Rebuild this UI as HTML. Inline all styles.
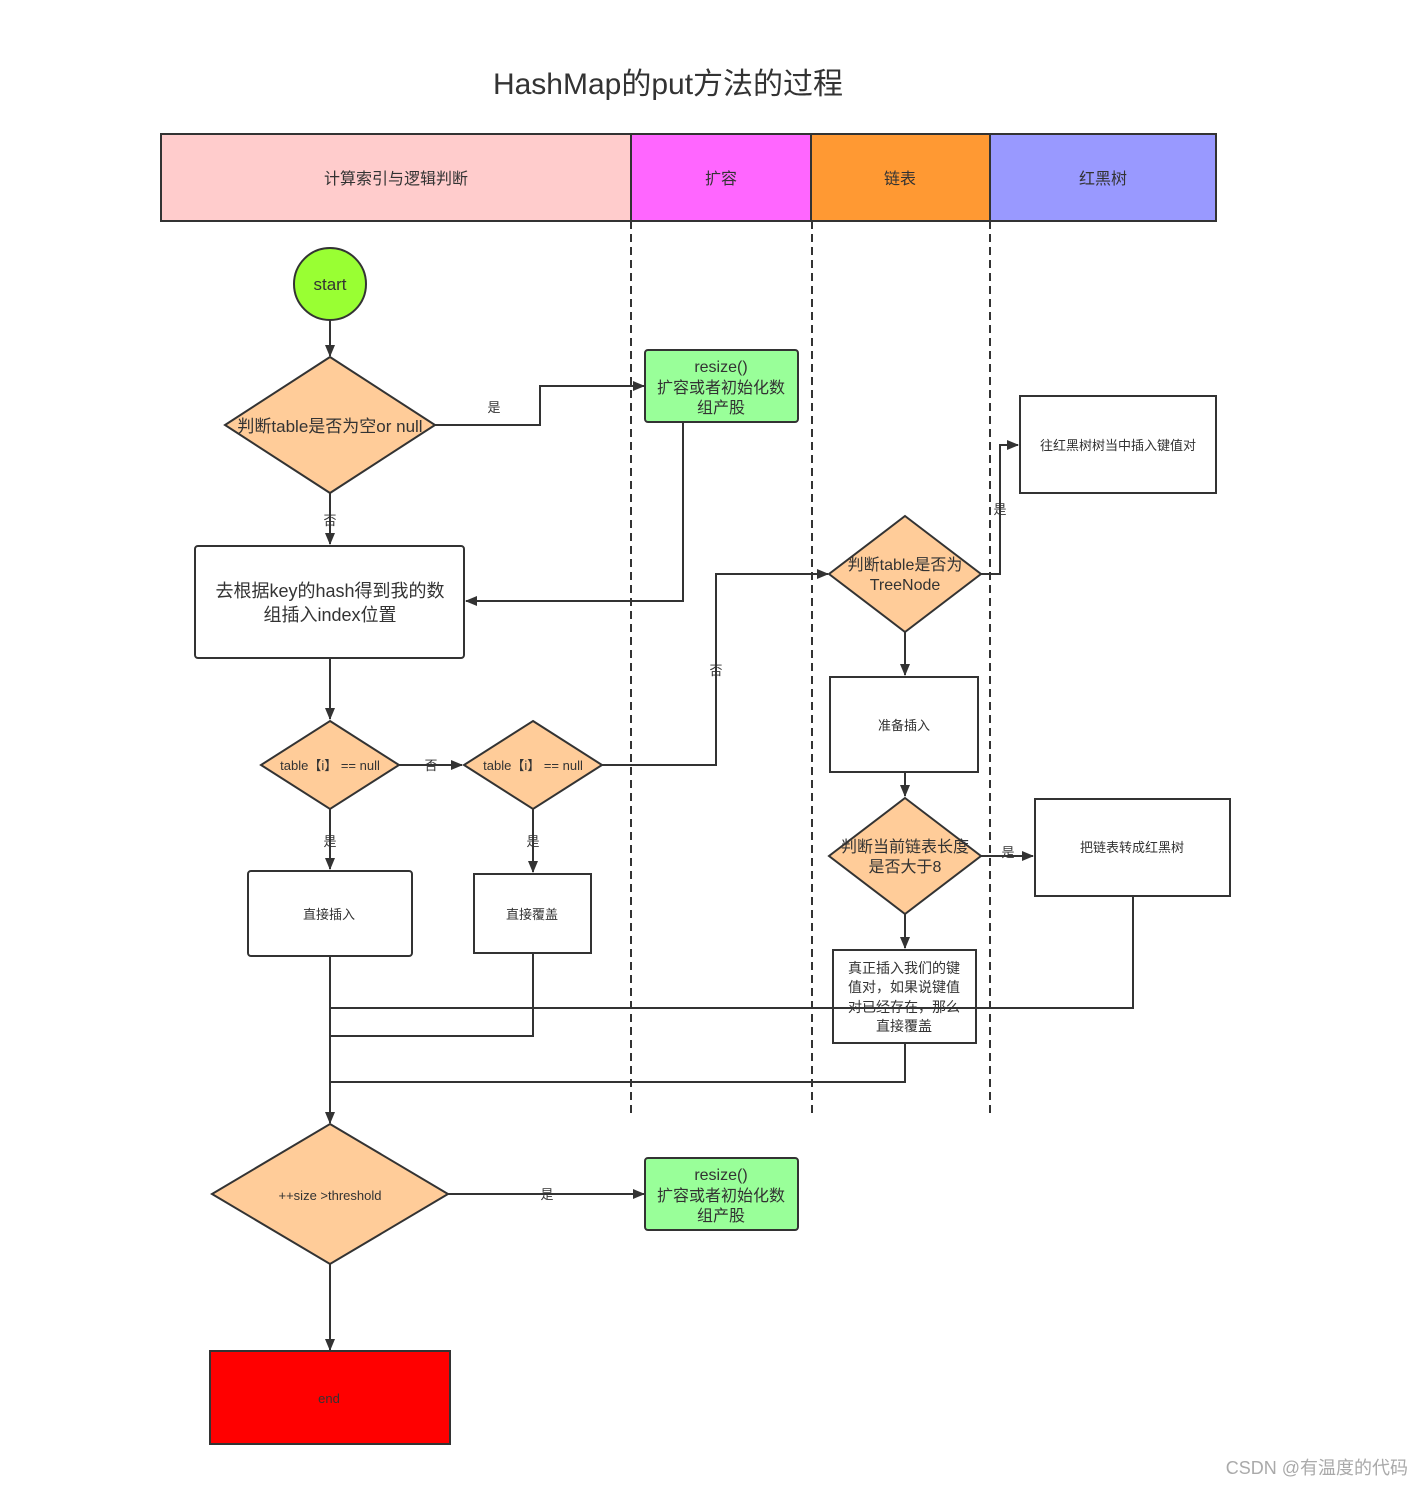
<!DOCTYPE html>
<html><head><meta charset="utf-8"><style>
html,body{margin:0;padding:0;background:#fff;}
svg{display:block;}
text{font-family:"Liberation Sans","Noto Sans CJK SC",sans-serif;fill:#333;}
</style></head><body>
<svg width="1422" height="1486" viewBox="0 0 1422 1486" xmlns="http://www.w3.org/2000/svg">
<defs><marker id="a" markerWidth="12" markerHeight="10" refX="11" refY="5" orient="auto" markerUnits="userSpaceOnUse"><path d="M0,0 L12,5 L0,10 Z" fill="#333"/></marker></defs>
<text x="668" y="94" font-size="30" text-anchor="middle">HashMap的put方法的过程</text>
<g stroke="#333" stroke-width="2">
<rect x="161" y="134" width="470" height="87" fill="#ffcccc"/>
<rect x="631" y="134" width="180" height="87" fill="#ff66ff"/>
<rect x="811" y="134" width="179" height="87" fill="#ff9933"/>
<rect x="990" y="134" width="226" height="87" fill="#9999ff"/>
</g>
<g font-size="16" text-anchor="middle">
<text x="396" y="184">计算索引与逻辑判断</text><text x="721" y="184">扩容</text><text x="900" y="184">链表</text><text x="1103" y="184">红黑树</text>
</g>
<g stroke="#333" stroke-width="2" stroke-dasharray="8,5"><line x1="631" y1="221" x2="631" y2="1118"/><line x1="812" y1="221" x2="812" y2="1118"/><line x1="990" y1="221" x2="990" y2="1118"/></g>
<g stroke="#333" stroke-width="2" fill="none">
<path d="M330,320V356" marker-end="url(#a)"/>
<path d="M435,425H540V386H644" marker-end="url(#a)"/>
<path d="M683,422V601H466" marker-end="url(#a)"/>
<path d="M330,493V544" marker-end="url(#a)"/>
<path d="M330,658V719" marker-end="url(#a)"/>
<path d="M399,765H462" marker-end="url(#a)"/>
<path d="M602,765H716V574H828" marker-end="url(#a)"/>
<path d="M981,574H1000V445H1018" marker-end="url(#a)"/>
<path d="M905,632V675" marker-end="url(#a)"/>
<path d="M905,772V796" marker-end="url(#a)"/>
<path d="M981,856H1033" marker-end="url(#a)"/>
<path d="M1133,896V1008H330"/>
<path d="M905,914V948" marker-end="url(#a)"/>
<path d="M905,1043V1082H330"/>
<path d="M330,809V869" marker-end="url(#a)"/>
<path d="M533,809V872" marker-end="url(#a)"/>
<path d="M533,953V1036H330"/>
<path d="M330,956V1123" marker-end="url(#a)"/>
<path d="M448,1194H644" marker-end="url(#a)"/>
<path d="M330,1264V1350" marker-end="url(#a)"/>
</g>
<g stroke="#333" stroke-width="2">
<circle cx="330" cy="284" r="36" fill="#99ff33"/>
<polygon points="330,357 435,425 330,493 225,425" fill="#ffcc99"/>
<rect x="645" y="350" width="153" height="72" rx="3" fill="#99ff99"/>
<rect x="195" y="546" width="269" height="112" rx="3" fill="#fff"/>
<polygon points="330,721 399,765 330,809 261,765" fill="#ffcc99"/>
<polygon points="533,721 602,765 533,809 464,765" fill="#ffcc99"/>
<polygon points="905,516 981,574 905,632 829,574" fill="#ffcc99"/>
<rect x="1020" y="396" width="196" height="97" fill="#fff"/>
<rect x="830" y="677" width="148" height="95" fill="#fff"/>
<polygon points="905,798 981,856 905,914 829,856" fill="#ffcc99"/>
<rect x="1035" y="799" width="195" height="97" fill="#fff"/>
<rect x="833" y="950" width="143" height="93" fill="#fff"/>
<rect x="248" y="871" width="164" height="85" rx="3" fill="#fff"/>
<rect x="474" y="874" width="117" height="79" fill="#fff"/>
<polygon points="330,1124 448,1194 330,1264 212,1194" fill="#ffcc99"/>
<rect x="645" y="1158" width="153" height="72" rx="3" fill="#99ff99"/>
<rect x="210" y="1351" width="240" height="93" fill="#ff0000"/>
</g>
<path d="M833,1008H976" stroke="#333" stroke-width="2"/>
<g text-anchor="middle">
<text x="330" y="290" font-size="17">start</text>
<text x="330" y="432" font-size="17">判断table是否为空or null</text>
<g font-size="16"><text x="721" y="372">resize()</text><text x="721" y="393">扩容或者初始化数</text><text x="721" y="413">组产股</text>
<text x="721" y="1180">resize()</text><text x="721" y="1201">扩容或者初始化数</text><text x="721" y="1221">组产股</text></g>
<g font-size="18"><text x="330" y="597">去根据key的hash得到我的数</text><text x="330" y="621">组插入index位置</text></g>
<g font-size="13"><text x="330" y="770">table【i】 == null</text><text x="533" y="770">table【i】 == null</text>
<text x="494" y="412">是</text><text x="330" y="525">否</text><text x="431" y="770">否</text><text x="716" y="675">否</text><text x="1000" y="514">是</text><text x="1008" y="857">是</text><text x="330" y="846">是</text><text x="533" y="846">是</text><text x="547" y="1199">是</text>
<text x="1118" y="450">往红黑树树当中插入键值对</text><text x="904" y="730">准备插入</text><text x="1132" y="852">把链表转成红黑树</text>
<text x="329" y="919">直接插入</text><text x="532" y="919">直接覆盖</text><text x="330" y="1200">++size &gt;threshold</text><text x="329" y="1403">end</text></g>
<g font-size="16"><text x="905" y="570">判断table是否为</text><text x="905" y="590">TreeNode</text><text x="905" y="852">判断当前链表长度</text><text x="905" y="872">是否大于8</text></g>
<g font-size="14"><text x="904" y="973">真正插入我们的键</text><text x="904" y="992">值对，如果说键值</text><text x="904" y="1012">对已经存在，那么</text><text x="904" y="1031">直接覆盖</text></g>
</g>
<text x="1408" y="1474" font-size="18" text-anchor="end" style="fill:#aaa">CSDN @有温度的代码</text>
</svg>
</body></html>
